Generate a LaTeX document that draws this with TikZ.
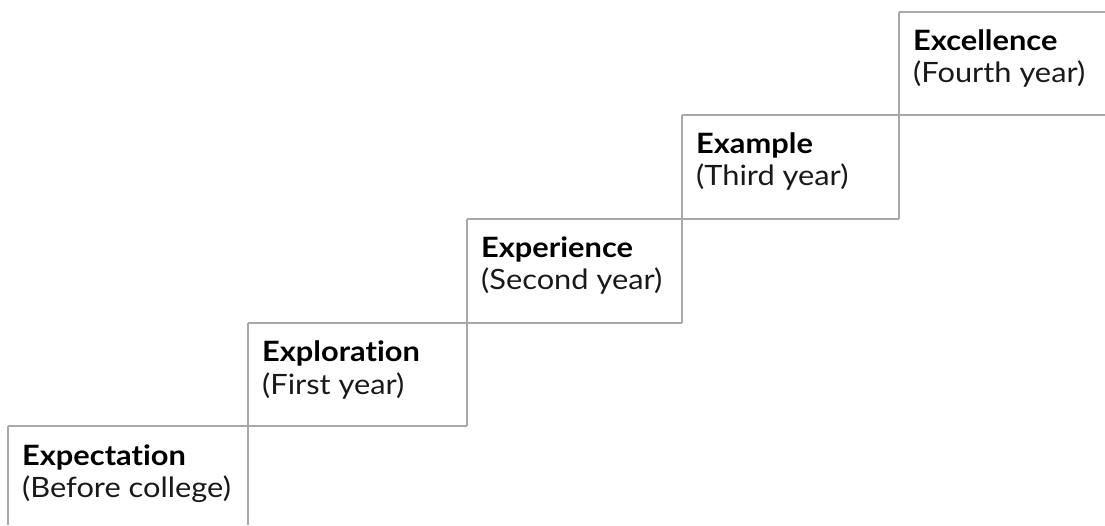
\documentclass[tikz,border=0pt]{standalone}
\usepackage{fontspec}
\setmainfont{Lato}[Ligatures=NoCommon, FakeStretch=1.1]
\usetikzlibrary{calc}
\begin{document}
\begin{tikzpicture}[x=1pt,y=1pt,
  rule/.style={draw=black!34, line width=1.6pt},
  title/.style={anchor=base west, inner sep=0pt, font=\fontsize{28}{32}\selectfont\bfseries, text=black},
  sub/.style={anchor=base west, inner sep=0pt, font=\fontsize{28}{32}\selectfont, text=black!90}]
\useasboundingbox (0,0) rectangle (1105,525);

% corner points of the staircase
\coordinate (a0) at (8,0);    \coordinate (a1) at (8,99);
\coordinate (b0) at (248,0);  \coordinate (b1) at (248,99);  \coordinate (b2) at (248,202);
\coordinate (c1) at (467,99); \coordinate (c2) at (467,202); \coordinate (c3) at (467,306);
\coordinate (d2) at (682,202);\coordinate (d3) at (682,306); \coordinate (d4) at (682,410);
\coordinate (e3) at (899,306);\coordinate (e4) at (899,410); \coordinate (e5) at (899,513);
\coordinate (f4) at (1105,410);\coordinate (f5) at (1105,513);

% verticals
\draw[rule] (a0) -- (a1);
\draw[rule] (b0) -- (b2);
\draw[rule] (c1) -- (c3);
\draw[rule] (d2) -- (d4);
\draw[rule] (e3) -- (e5);
% treads
\draw[rule] (a1) -- (c1);
\draw[rule] (b2) -- (d2);
\draw[rule] (c3) -- (e3);
\draw[rule] (d4) -- (f4);
\draw[rule] (e5) -- (f5);

% labels: bold step name, then the year below it
\node[title] (t1) at ($(a1)+(14,-39)$) {Expectation};
\node[sub]   (s1) at ($(a1)+(14,-71)$) {(Before college)};
\node[title] (t2) at ($(b2)+(14,-39)$) {Exploration};
\node[sub]   (s2) at ($(b2)+(14,-71)$) {(First year)};
\node[title] (t3) at ($(c3)+(14,-39)$) {Experience};
\node[sub]   (s3) at ($(c3)+(14,-71)$) {(Second year)};
\node[title] (t4) at ($(d4)+(14,-39)$) {Example};
\node[sub]   (s4) at ($(d4)+(14,-71)$) {(Third year)};
\node[title] (t5) at ($(e5)+(14,-39)$) {Excellence};
\node[sub]   (s5) at ($(e5)+(14,-71)$) {(Fourth year)};
\end{tikzpicture}
\end{document}
